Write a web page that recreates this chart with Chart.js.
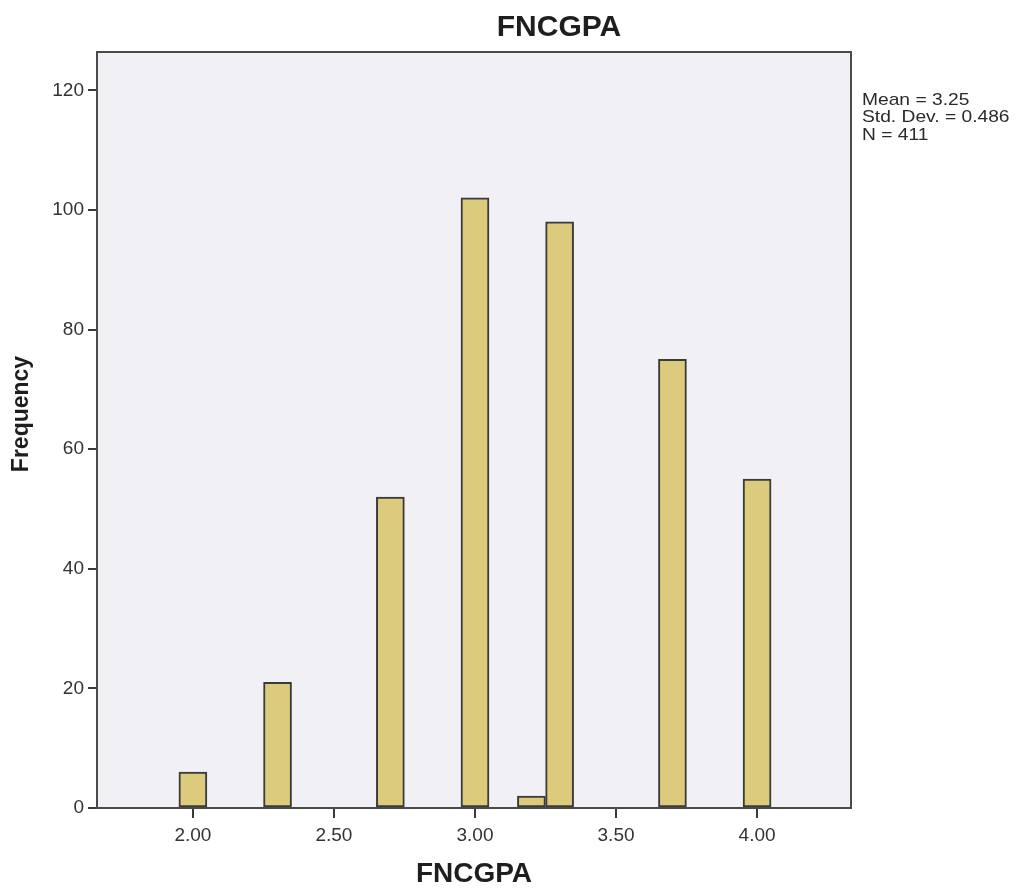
<!DOCTYPE html>
<html>
<head>
<meta charset="utf-8">
<title>FNCGPA</title>
<script src="https://cdn.jsdelivr.net/npm/chart.js@4/dist/chart.umd.min.js"></script>
<style>
  html, body { margin: 0; padding: 0; background: #ffffff; }
  canvas { display: block; }
</style>
</head>
<body>
<canvas id="hist" width="1019" height="888"></canvas>
<script>
// histogram bins (bin centres) and their counts
const binCenters = [2.0, 2.3, 2.7, 3.0, 3.2, 3.3, 3.7, 4.0];
const frequencies = [6, 21, 52, 102, 2, 98, 75, 55];

// axis ticks
const xTicks = [2.0, 2.5, 3.0, 3.5, 4.0];
const yTicks = [0, 20, 40, 60, 80, 100, 120];

// summary box text
const statsLines = ['Mean = 3.25', 'Std. Dev. = 0.486', 'N = 411'];

const chartTitle = 'FNCGPA';
const xTitle = 'FNCGPA';
const yTitle = 'Frequency';

const FONT = "'Liberation Sans', Arial, sans-serif";

// plot background, frame and all free text
const decorations = {
  id: 'decorations',
  beforeDraw(chart) {
    const { ctx, chartArea: a } = chart;
    ctx.save();
    ctx.fillStyle = '#f0f0f5';
    ctx.fillRect(a.left, a.top, a.right - a.left, a.bottom - a.top);
    ctx.restore();
  },
  afterDraw(chart) {
    const { ctx, chartArea: a } = chart;
    ctx.save();
    ctx.strokeStyle = '#4a4a4a';
    ctx.lineWidth = 2;
    ctx.strokeRect(a.left, a.top, a.right - a.left, a.bottom - a.top);

    ctx.fillStyle = '#1e1e1e';
    ctx.textAlign = 'center';
    ctx.textBaseline = 'middle';
    ctx.font = 'bold 30px ' + FONT;
    ctx.fillText(chartTitle, 559, 28);

    ctx.font = 'bold 28px ' + FONT;
    ctx.fillText(xTitle, (a.left + a.right) / 2, 874);

    ctx.save();
    ctx.translate(22, 414);
    ctx.rotate(-Math.PI / 2);
    ctx.font = 'bold 23px ' + FONT;
    ctx.fillText(yTitle, 0, 0);
    ctx.restore();

    // stats text is a little wider than the plain font
    ctx.fillStyle = '#2a2a2a';
    ctx.textAlign = 'left';
    ctx.font = '17px ' + FONT;
    statsLines.forEach((line, i) => {
      ctx.save();
      ctx.translate(a.right + 11, 100 + i * 17.5);
      ctx.scale(1.13, 1);
      ctx.fillText(line, 0, 0);
      ctx.restore();
    });
    ctx.restore();
  }
};

new Chart(document.getElementById('hist'), {
  type: 'bar',
  data: {
    datasets: [{
      data: binCenters.map((x, i) => ({ x: x, y: frequencies[i] })),
      backgroundColor: '#dccb7c',
      borderColor: '#3a3a3a',
      borderWidth: 2,
      borderSkipped: false,
      barThickness: 28
    }]
  },
  options: {
    responsive: false,
    animation: false,
    layout: { padding: { top: 52, right: 168, left: 0, bottom: 0 } },
    plugins: {
      legend: { display: false },
      tooltip: { enabled: false },
      title: { display: false }
    },
    scales: {
      x: {
        type: 'linear',
        offset: false,
        min: 1.66,
        max: 4.333,
        afterBuildTicks(scale) { scale.ticks = xTicks.map(v => ({ value: v })); },
        afterFit(scale) { scale.height = 80; },
        grid: { offset: false, drawOnChartArea: false, drawTicks: true, tickLength: 10, color: '#3a3a3a', lineWidth: 2 },
        border: { display: false },
        ticks: {
          padding: 6,
          color: '#333333',
          font: { family: FONT, size: 19 },
          callback: v => Number(v).toFixed(2)
        }
      },
      y: {
        min: 0,
        max: 126.4,
        afterBuildTicks(scale) { scale.ticks = yTicks.map(v => ({ value: v })); },
        afterFit(scale) { scale.width = 97; },
        grid: { drawOnChartArea: false, drawTicks: true, tickLength: 9, color: '#3a3a3a', lineWidth: 2 },
        border: { display: false },
        ticks: {
          padding: 4,
          color: '#333333',
          font: { family: FONT, size: 19 }
        }
      }
    }
  },
  plugins: [decorations]
});
</script>
</body>
</html>
